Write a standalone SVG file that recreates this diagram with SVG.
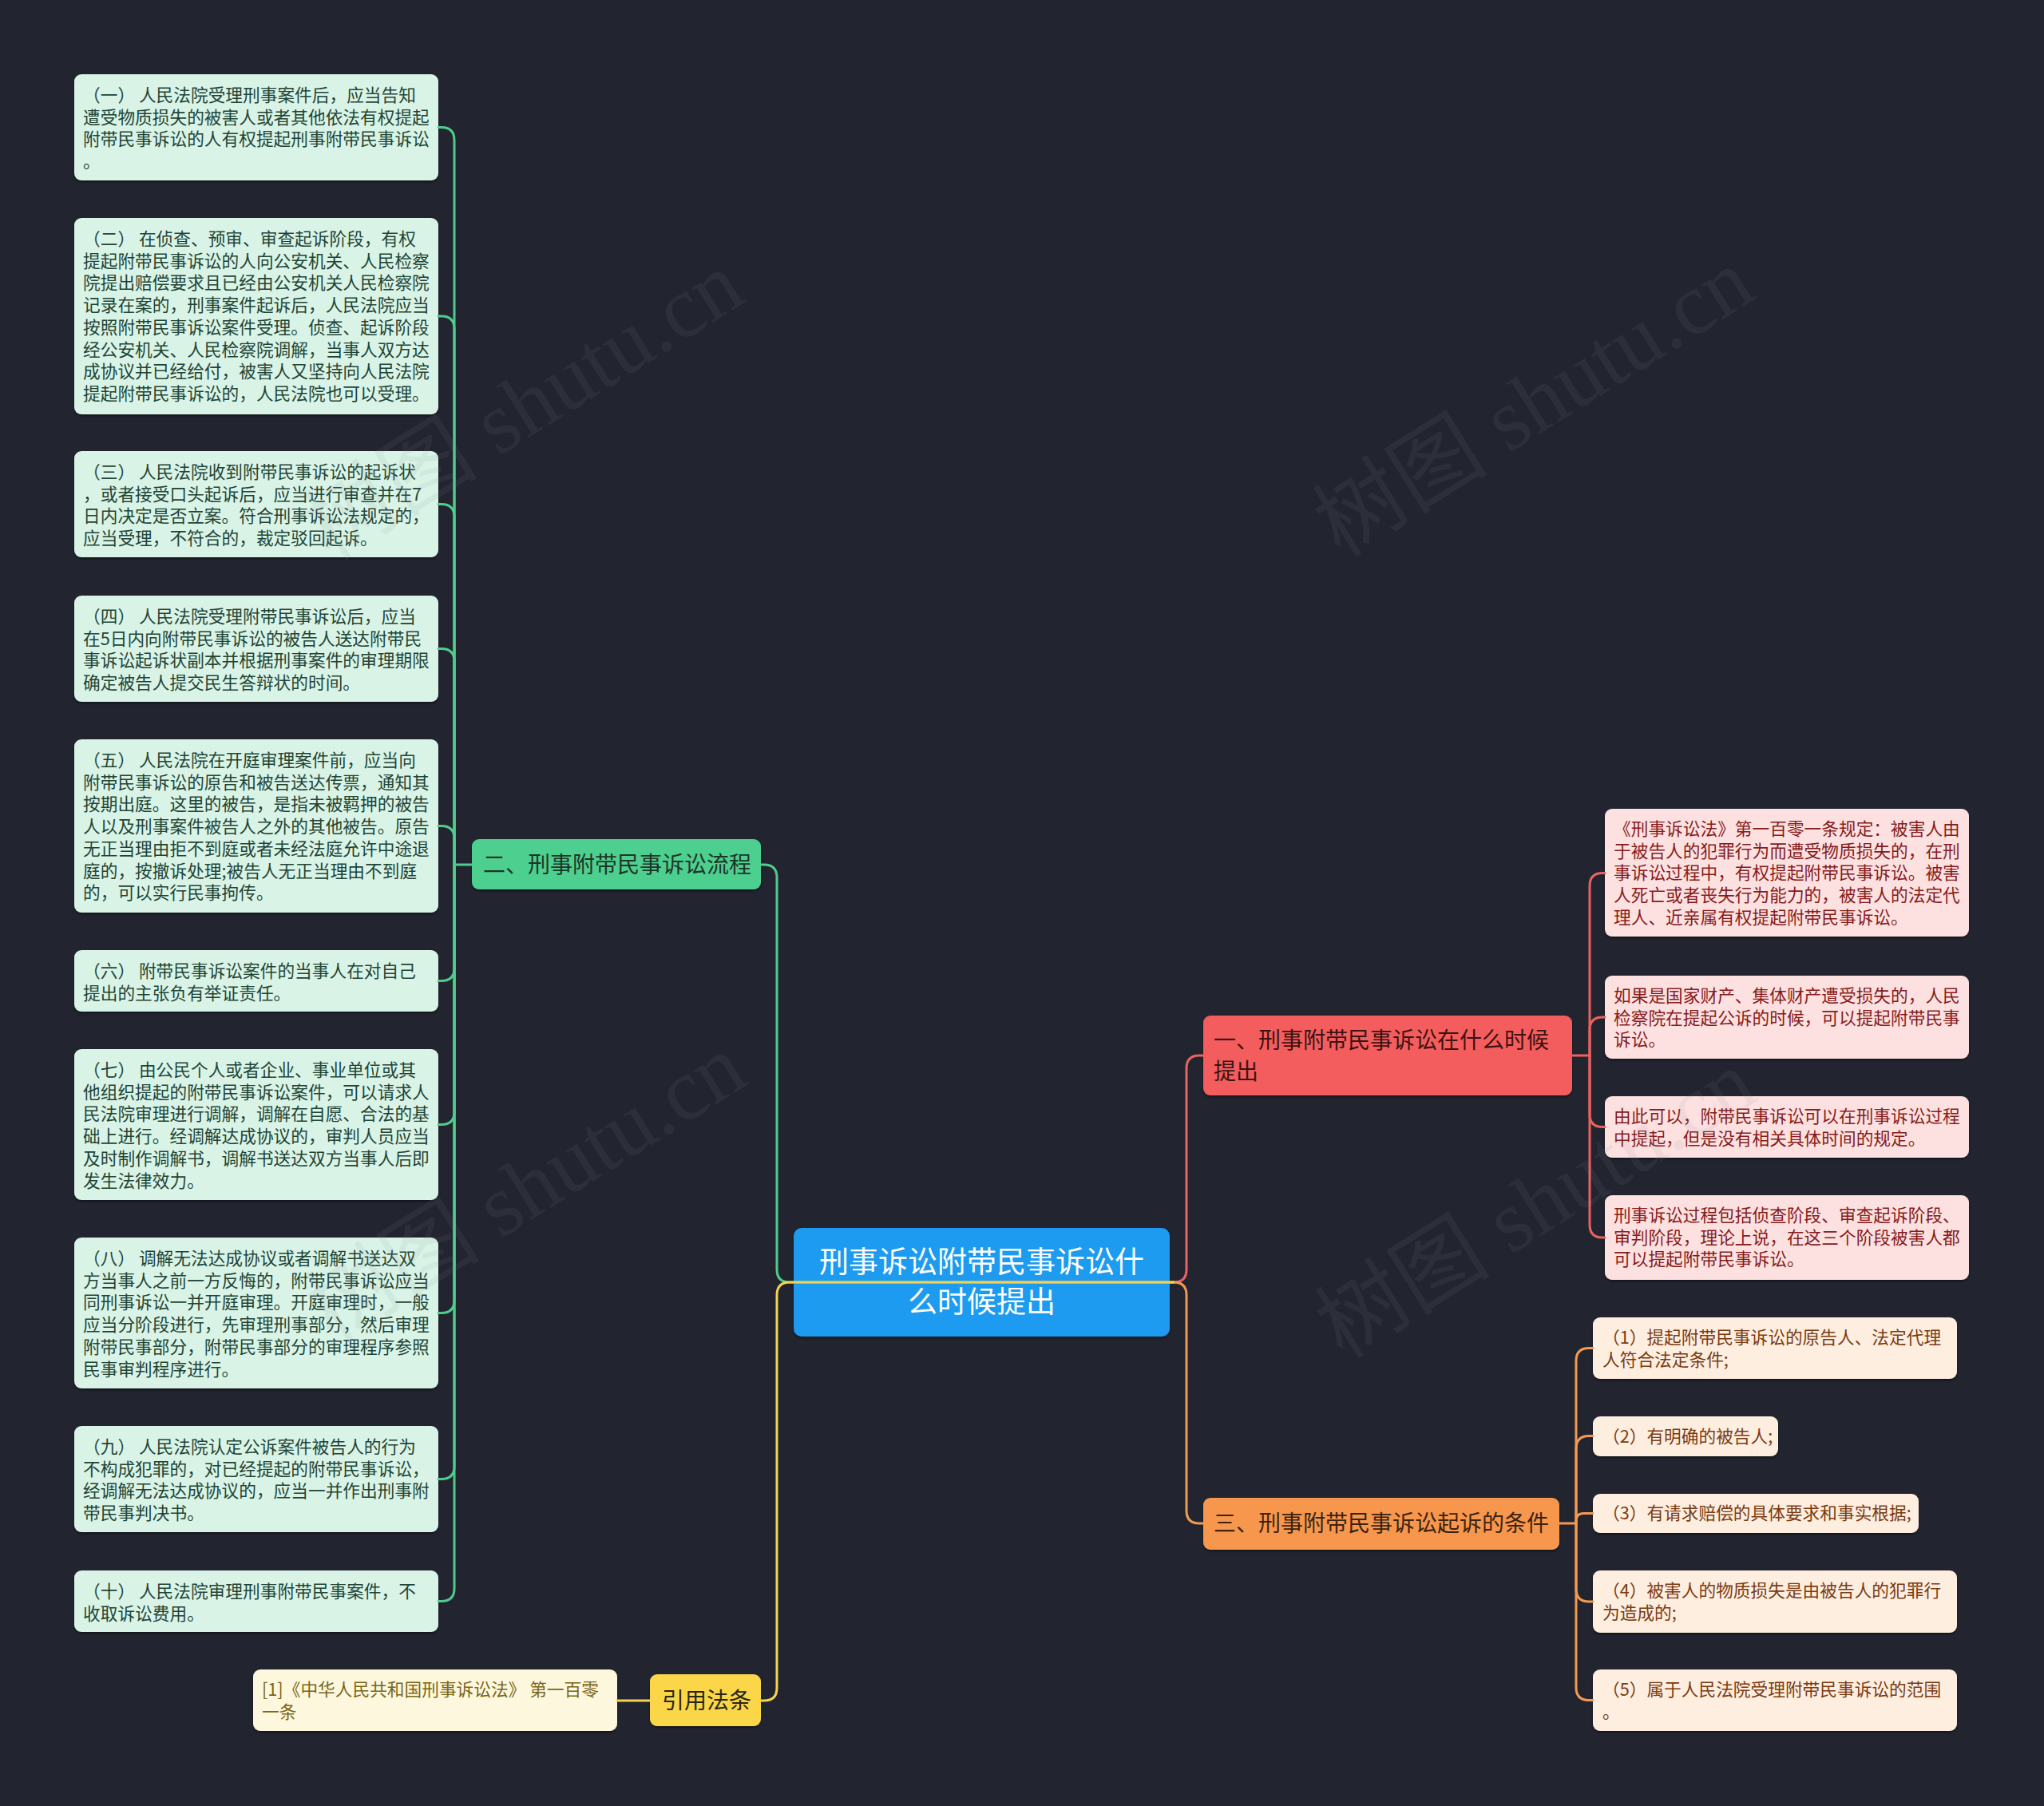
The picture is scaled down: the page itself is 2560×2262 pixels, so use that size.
<svg xmlns="http://www.w3.org/2000/svg" width="2560" height="2262" viewBox="0 0 2560 2262">
<defs>
<filter id="sh" x="-5%" y="-10%" width="110%" height="130%">
<feDropShadow dx="0" dy="2" stdDeviation="1.5" flood-color="#000" flood-opacity="0.45"/>
</filter>
</defs>
<style>
text{font-family:"Noto Sans CJK SC","Noto Sans",sans-serif}
.lf{font-size:21.7px}
.br{font-size:28px}
.leafG rect{fill:#d9f4e7}
.leafG text{fill:#1f4436}
.leafR rect{fill:#fde1e1}
.leafR text{fill:#861b1b}
.leafO rect{fill:#feeee0}
.leafO text{fill:#7a3b12}
.leafY rect{fill:#fdf7dd}
.leafY text{fill:#7a6618}
.node rect{filter:url(#sh)}
.c{fill:none;stroke-width:3;stroke-linecap:round}
.cg{stroke:#4fcb8e}
.cr{stroke:#e96262}
.co{stroke:#f39a52}
.cy{stroke:#f4d352}
.wm{font-family:"Liberation Serif","Noto Sans CJK SC",serif;font-size:110px;fill:#8a8d96;opacity:0.1}
</style>
<rect x="0" y="0" width="2560" height="2262" fill="#22252f"/>

<!-- root -->
<g id="root" class="node">
<rect x="994" y="1538" width="471" height="136" rx="10" fill="#1d9bf0"/>
<text x="1229.5" y="1594" font-size="37" fill="#ffffff" text-anchor="middle">刑事诉讼附带民事诉讼什</text>
<text x="1229.5" y="1644" font-size="37" fill="#ffffff" text-anchor="middle">么时候提出</text>
</g>

<!-- branch 二 -->
<g id="b2" class="node">
<rect x="591" y="1051" width="362" height="63" rx="9" fill="#4ecf8f"/>
<text class="br" x="605" y="1093" fill="#1d3527">二、刑事附带民事诉讼流程</text>
</g>

<!-- branch 一 -->
<g id="b1" class="node">
<rect x="1507" y="1272" width="462" height="100" rx="9" fill="#f45d5d"/>
<text class="br" x="1520" y="1313" fill="#3d1212">一、刑事附带民事诉讼在什么时候</text>
<text class="br" x="1520" y="1352" fill="#3d1212">提出</text>
</g>

<!-- branch 三 -->
<g id="b3" class="node">
<rect x="1507" y="1876" width="446" height="65" rx="9" fill="#f7974d"/>
<text class="br" x="1520" y="1918" fill="#3d2210">三、刑事附带民事诉讼起诉的条件</text>
</g>

<!-- branch 引用法条 -->
<g id="b4" class="node">
<rect x="814" y="2097" width="139" height="65" rx="9" fill="#fbd648"/>
<text class="br" x="829" y="2140" fill="#2a2614">引用法条</text>
</g>

<!-- left leaves -->
<g id="l1" class="node leafG">
<rect x="93" y="93" width="456" height="133" rx="9"/>
<text class="lf" x="104" y="127"><tspan x="104">（一） 人民法院受理刑事案件后，应当告知</tspan><tspan x="104" dy="27.7">遭受物质损失的被害人或者其他依法有权提起</tspan><tspan x="104" dy="27.7">附带民事诉讼的人有权提起刑事附带民事诉讼</tspan><tspan x="104" dy="27.7">。</tspan></text>
</g>
<g id="l2" class="node leafG">
<rect x="93" y="273" width="456" height="246" rx="9"/>
<text class="lf" x="104" y="307"><tspan x="104">（二） 在侦查、预审、审查起诉阶段，有权</tspan><tspan x="104" dy="27.7">提起附带民事诉讼的人向公安机关、人民检察</tspan><tspan x="104" dy="27.7">院提出赔偿要求且已经由公安机关人民检察院</tspan><tspan x="104" dy="27.7">记录在案的，刑事案件起诉后，人民法院应当</tspan><tspan x="104" dy="27.7">按照附带民事诉讼案件受理。侦查、起诉阶段</tspan><tspan x="104" dy="27.7">经公安机关、人民检察院调解，当事人双方达</tspan><tspan x="104" dy="27.7">成协议并已经给付，被害人又坚持向人民法院</tspan><tspan x="104" dy="27.7">提起附带民事诉讼的，人民法院也可以受理。</tspan></text>
</g>
<g id="l3" class="node leafG">
<rect x="93" y="565" width="456" height="133" rx="9"/>
<text class="lf" x="104" y="599"><tspan x="104">（三） 人民法院收到附带民事诉讼的起诉状</tspan><tspan x="104" dy="27.7">，或者接受口头起诉后，应当进行审查并在7</tspan><tspan x="104" dy="27.7">日内决定是否立案。符合刑事诉讼法规定的，</tspan><tspan x="104" dy="27.7">应当受理，不符合的，裁定驳回起诉。</tspan></text>
</g>
<g id="l4" class="node leafG">
<rect x="93" y="746" width="456" height="133" rx="9"/>
<text class="lf" x="104" y="780"><tspan x="104">（四） 人民法院受理附带民事诉讼后，应当</tspan><tspan x="104" dy="27.7">在5日内向附带民事诉讼的被告人送达附带民</tspan><tspan x="104" dy="27.7">事诉讼起诉状副本并根据刑事案件的审理期限</tspan><tspan x="104" dy="27.7">确定被告人提交民生答辩状的时间。</tspan></text>
</g>
<g id="l5" class="node leafG">
<rect x="93" y="926" width="456" height="217" rx="9"/>
<text class="lf" x="104" y="960"><tspan x="104">（五） 人民法院在开庭审理案件前，应当向</tspan><tspan x="104" dy="27.7">附带民事诉讼的原告和被告送达传票，通知其</tspan><tspan x="104" dy="27.7">按期出庭。这里的被告，是指未被羁押的被告</tspan><tspan x="104" dy="27.7">人以及刑事案件被告人之外的其他被告。原告</tspan><tspan x="104" dy="27.7">无正当理由拒不到庭或者未经法庭允许中途退</tspan><tspan x="104" dy="27.7">庭的，按撤诉处理;被告人无正当理由不到庭</tspan><tspan x="104" dy="27.7">的，可以实行民事拘传。</tspan></text>
</g>
<g id="l6" class="node leafG">
<rect x="93" y="1190" width="456" height="77" rx="9"/>
<text class="lf" x="104" y="1224"><tspan x="104">（六） 附带民事诉讼案件的当事人在对自己</tspan><tspan x="104" dy="27.7">提出的主张负有举证责任。</tspan></text>
</g>
<g id="l7" class="node leafG">
<rect x="93" y="1314" width="456" height="189" rx="9"/>
<text class="lf" x="104" y="1348"><tspan x="104">（七） 由公民个人或者企业、事业单位或其</tspan><tspan x="104" dy="27.7">他组织提起的附带民事诉讼案件，可以请求人</tspan><tspan x="104" dy="27.7">民法院审理进行调解，调解在自愿、合法的基</tspan><tspan x="104" dy="27.7">础上进行。经调解达成协议的，审判人员应当</tspan><tspan x="104" dy="27.7">及时制作调解书，调解书送达双方当事人后即</tspan><tspan x="104" dy="27.7">发生法律效力。</tspan></text>
</g>
<g id="l8" class="node leafG">
<rect x="93" y="1550" width="456" height="189" rx="9"/>
<text class="lf" x="104" y="1584"><tspan x="104">（八） 调解无法达成协议或者调解书送达双</tspan><tspan x="104" dy="27.7">方当事人之前一方反悔的，附带民事诉讼应当</tspan><tspan x="104" dy="27.7">同刑事诉讼一并开庭审理。开庭审理时，一般</tspan><tspan x="104" dy="27.7">应当分阶段进行，先审理刑事部分，然后审理</tspan><tspan x="104" dy="27.7">附带民事部分，附带民事部分的审理程序参照</tspan><tspan x="104" dy="27.7">民事审判程序进行。</tspan></text>
</g>
<g id="l9" class="node leafG">
<rect x="93" y="1786" width="456" height="133" rx="9"/>
<text class="lf" x="104" y="1820"><tspan x="104">（九） 人民法院认定公诉案件被告人的行为</tspan><tspan x="104" dy="27.7">不构成犯罪的，对已经提起的附带民事诉讼，</tspan><tspan x="104" dy="27.7">经调解无法达成协议的，应当一并作出刑事附</tspan><tspan x="104" dy="27.7">带民事判决书。</tspan></text>
</g>
<g id="l10" class="node leafG">
<rect x="93" y="1967" width="456" height="77" rx="9"/>
<text class="lf" x="104" y="2001"><tspan x="104">（十） 人民法院审理刑事附带民事案件，不</tspan><tspan x="104" dy="27.7">收取诉讼费用。</tspan></text>
</g>

<!-- reference leaf -->
<g id="ref1" class="node leafY">
<rect x="317" y="2091" width="456" height="77" rx="9"/>
<text class="lf" x="328" y="2124"><tspan x="328">[1]《中华人民共和国刑事诉讼法》 第一百零</tspan><tspan x="328" dy="27.7">一条</tspan></text>
</g>

<!-- right pink leaves -->
<g id="r1" class="node leafR">
<rect x="2010" y="1013" width="456" height="160" rx="9"/>
<text class="lf" x="2021" y="1046"><tspan x="2021">《刑事诉讼法》第一百零一条规定：被害人由</tspan><tspan x="2021" dy="27.7">于被告人的犯罪行为而遭受物质损失的，在刑</tspan><tspan x="2021" dy="27.7">事诉讼过程中，有权提起附带民事诉讼。被害</tspan><tspan x="2021" dy="27.7">人死亡或者丧失行为能力的，被害人的法定代</tspan><tspan x="2021" dy="27.7">理人、近亲属有权提起附带民事诉讼。</tspan></text>
</g>
<g id="r2" class="node leafR">
<rect x="2010" y="1222" width="456" height="104" rx="9"/>
<text class="lf" x="2021" y="1255"><tspan x="2021">如果是国家财产、集体财产遭受损失的，人民</tspan><tspan x="2021" dy="27.7">检察院在提起公诉的时候，可以提起附带民事</tspan><tspan x="2021" dy="27.7">诉讼。</tspan></text>
</g>
<g id="r3" class="node leafR">
<rect x="2010" y="1373" width="456" height="77" rx="9"/>
<text class="lf" x="2021" y="1406"><tspan x="2021">由此可以，附带民事诉讼可以在刑事诉讼过程</tspan><tspan x="2021" dy="27.7">中提起，但是没有相关具体时间的规定。</tspan></text>
</g>
<g id="r4" class="node leafR">
<rect x="2010" y="1497" width="456" height="106" rx="9"/>
<text class="lf" x="2021" y="1530"><tspan x="2021">刑事诉讼过程包括侦查阶段、审查起诉阶段、</tspan><tspan x="2021" dy="27.7">审判阶段，理论上说，在这三个阶段被害人都</tspan><tspan x="2021" dy="27.7">可以提起附带民事诉讼。</tspan></text>
</g>

<!-- right orange leaves -->
<g id="o1" class="node leafO">
<rect x="1995" y="1650" width="456" height="77" rx="9"/>
<text class="lf" x="2007" y="1683"><tspan x="2007">（1）提起附带民事诉讼的原告人、法定代理</tspan><tspan x="2007" dy="27.7">人符合法定条件;</tspan></text>
</g>
<g id="o2" class="node leafO">
<rect x="1995" y="1774" width="232" height="50" rx="9"/>
<text class="lf" x="2007" y="1807">（2）有明确的被告人;</text>
</g>
<g id="o3" class="node leafO">
<rect x="1995" y="1871" width="408" height="49" rx="9"/>
<text class="lf" x="2007" y="1903">（3）有请求赔偿的具体要求和事实根据;</text>
</g>
<g id="o4" class="node leafO">
<rect x="1995" y="1967" width="456" height="78" rx="9"/>
<text class="lf" x="2007" y="2000"><tspan x="2007">（4）被害人的物质损失是由被告人的犯罪行</tspan><tspan x="2007" dy="27.7">为造成的;</tspan></text>
</g>
<g id="o5" class="node leafO">
<rect x="1995" y="2091" width="456" height="77" rx="9"/>
<text class="lf" x="2007" y="2124"><tspan x="2007">（5）属于人民法院受理附带民事诉讼的范围</tspan><tspan x="2007" dy="27.7">。</tspan></text>
</g>

<!-- connectors -->
<g id="connectors">
<g class="c cg">
<path d="M1229.5,1606 H989 Q973,1606 973,1590 V1099 Q973,1083 957,1083 H953"/>
<path d="M591,1083 H569 V175.5 Q569,159.5 553,159.5 H549"/>
<path d="M569,1083 V412 Q569,396 553,396 H549"/>
<path d="M569,1083 V647.5 Q569,631.5 553,631.5 H549"/>
<path d="M569,1083 V828.5 Q569,812.5 553,812.5 H549"/>
<path d="M569,1083 V1050.5 Q569,1034.5 553,1034.5 H549"/>
<path d="M569,1083 V1212.5 Q569,1228.5 553,1228.5 H549"/>
<path d="M569,1083 V1392.5 Q569,1408.5 553,1408.5 H549"/>
<path d="M569,1083 V1628.5 Q569,1644.5 553,1644.5 H549"/>
<path d="M569,1083 V1836.5 Q569,1852.5 553,1852.5 H549"/>
<path d="M569,1083 V1989.5 Q569,2005.5 553,2005.5 H549"/>
</g>
<g class="c cr">
<path d="M1229.5,1606 H1470 Q1486,1606 1486,1590 V1338 Q1486,1322 1502,1322 H1507"/>
<path d="M1969,1322 H1991 V1109.5 Q1991,1093.5 2007,1093.5 H2010"/>
<path d="M1991,1322 V1290 Q1991,1274 2007,1274 H2010"/>
<path d="M1991,1322 V1395.5 Q1991,1411.5 2007,1411.5 H2010"/>
<path d="M1991,1322 V1534 Q1991,1550 2007,1550 H2010"/>
</g>
<g class="c co">
<path d="M1229.5,1606 H1470 Q1486,1606 1486,1622 V1892 Q1486,1908 1502,1908 H1507"/>
<path d="M1953,1908 H1974 V1704.5 Q1974,1688.5 1990,1688.5 H1995"/>
<path d="M1974,1908 V1814.5 Q1974,1798.5 1990,1798.5 H1995"/>
<path d="M1974,1908 V1905 Q1974,1895.5 1983.5,1895.5 H1995"/>
<path d="M1974,1908 V1990 Q1974,2006 1990,2006 H1995"/>
<path d="M1974,1908 V2113.5 Q1974,2129.5 1990,2129.5 H1995"/>
</g>
<g class="c cy">
<path d="M1470,1606 H989 Q973,1606 973,1622 V2114 Q973,2130 957,2130 H953"/>
<path d="M814,2130 H773"/>
</g>
</g>

<!-- watermarks -->
<g id="watermarks">
<text class="wm" x="657" y="545" text-anchor="middle" transform="rotate(-32 657 510)">树图 shutu.cn</text>
<text class="wm" x="1922" y="541" text-anchor="middle" transform="rotate(-32 1922 506)">树图 shutu.cn</text>
<text class="wm" x="660" y="1525" text-anchor="middle" transform="rotate(-32 660 1490)">树图 shutu.cn</text>
<text class="wm" x="1925" y="1545" text-anchor="middle" transform="rotate(-32 1925 1510)">树图 shutu.cn</text>
</g>
</svg>
